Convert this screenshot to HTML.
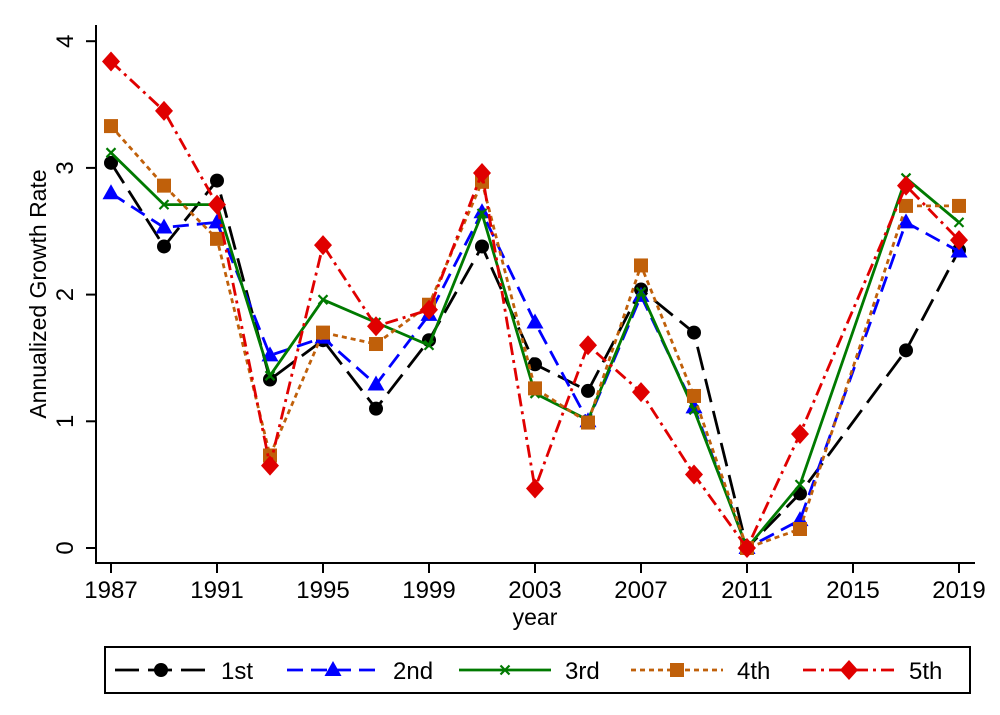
<!DOCTYPE html><html><head><meta charset="utf-8"><style>body{margin:0;background:#fff}svg{display:block;font-family:"Liberation Sans",sans-serif}</style></head><body>
<svg id="c" width="1000" height="715"></svg>
<script>
const years=[1987,1989,1991,1993,1995,1997,1999,2001,2003,2005,2007,2009,2011,2013,2017,2019];
const s1=[3.04,2.38,2.90,1.33,1.64,1.10,1.64,2.38,1.45,1.24,2.04,1.70,0,0.43,1.56,2.35];
const s2=[2.80,2.53,2.57,1.52,1.66,1.29,1.84,2.65,1.78,1.00,1.99,1.11,0,0.22,2.57,2.34];
const s3=[3.12,2.71,2.71,1.36,1.96,1.78,1.60,2.64,1.22,1.01,2.02,1.09,0,0.50,2.92,2.57];
const s4=[3.33,2.86,2.44,0.73,1.70,1.61,1.92,2.89,1.26,0.99,2.23,1.20,0,0.15,2.70,2.70];
const s5=[3.84,3.45,2.71,0.65,2.39,1.75,1.88,2.96,0.47,1.60,1.23,0.58,0,0.90,2.86,2.43];
const xTicks=[1987,1991,1995,1999,2003,2007,2011,2015,2019];
const yTicks=[0,1,2,3,4];
const names=['1st','2nd','3rd','4th','5th'];
const X=v=>111+(v-1987)*(959-111)/32, Y=v=>548-v*126.7;
const svg=document.getElementById('c');const NS='http://www.w3.org/2000/svg';
function mk(t,a,p){const e=document.createElementNS(NS,t);for(const k in a)e.setAttribute(k,a[k]);(p||svg).appendChild(e);return e;}
let e;
e=mk('path',{d:'M96 25V563H975',fill:'none',stroke:'#000','stroke-width':2});


yTicks.forEach(v=>{mk('line',{x1:86,x2:96,y1:Y(v),y2:Y(v),stroke:'#000','stroke-width':2});
e=mk('text',{x:0,y:0,transform:`translate(73,${Y(v)}) rotate(-90)`,'text-anchor':'middle','font-size':24});e.textContent=v;

});
xTicks.forEach(v=>{mk('line',{x1:X(v),x2:X(v),y1:563,y2:573,stroke:'#000','stroke-width':2});
e=mk('text',{x:X(v),y:598,'text-anchor':'middle','font-size':24});e.textContent=v;

});
e=mk('text',{x:535,y:625,'text-anchor':'middle','font-size':23});e.textContent='year';


e=mk('text',{x:0,y:0,transform:'translate(46,294) rotate(-90)','text-anchor':'middle','font-size':23});e.textContent='Annualized Growth Rate';


const sty=[{c:'#000',d:'24 9',m:'circle'},{c:'#0000ff',d:'16 8',m:'tri'},{c:'#007a00',d:'',m:'x'},{c:'#c0600a',d:'5 4',m:'sq'},{c:'#e00000',d:'13 5 3 5',m:'dia'}];
function marker(m,x,y,c,g){if(m==='circle')mk('circle',{cx:x,cy:y,r:7,fill:c},g);
else if(m==='tri')mk('polygon',{points:`${x},${y-9} ${x-8.5},${y+6} ${x+8.5},${y+6}`,fill:c},g);
else if(m==='x'){mk('path',{d:`M${x-4.5} ${y-4.5}L${x+4.5} ${y+4.5}M${x-4.5} ${y+4.5}L${x+4.5} ${y-4.5}`,stroke:c,'stroke-width':2.2},g);}
else if(m==='sq')mk('rect',{x:x-7,y:y-7,width:14,height:14,fill:c},g);
else mk('polygon',{points:`${x},${y-10} ${x+9},${y} ${x},${y+10} ${x-9},${y}`,fill:c},g);}
[s1,s2,s3,s4,s5].forEach((s,i)=>{const st=sty[i];const g=mk('g',{});


mk('polyline',{points:s.map((v,j)=>X(years[j])+','+Y(v)).join(' '),fill:'none',stroke:st.c,'stroke-width':2.8,'stroke-dasharray':st.d},g);
s.forEach((v,j)=>marker(st.m,X(years[j]),Y(v),st.c,g));});
e=mk('rect',{x:105,y:647,width:865,height:46,fill:'none',stroke:'#000','stroke-width':2});


names.forEach((n,i)=>{const st=sty[i];const x0=115+i*172;const g=mk('g',{});


mk('line',{x1:x0,x2:x0+92,y1:670,y2:670,stroke:st.c,'stroke-width':2.8,'stroke-dasharray':st.d},g);
marker(st.m,x0+46,670,st.c,g);
const t=mk('text',{x:x0+106,y:679,'font-size':24},g);t.textContent=n;});
</script></body></html>
